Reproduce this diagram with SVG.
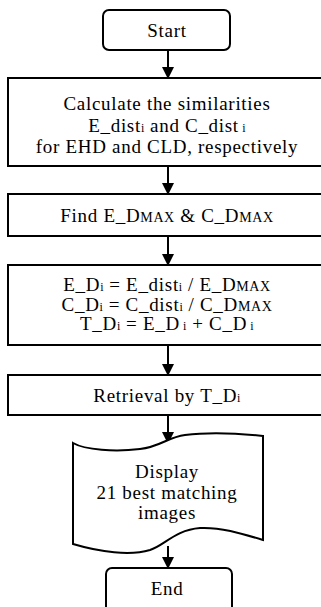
<svg xmlns="http://www.w3.org/2000/svg" width="321" height="607" viewBox="0 0 321 607">
  <defs>
    <marker id="arrow" markerWidth="12" markerHeight="12" refX="11" refY="6" orient="auto" markerUnits="userSpaceOnUse">
      <path d="M0,0 L12,6 L0,12 Z" fill="#000"/>
    </marker>
    <style>
      .box { fill: #fff; stroke: #000; stroke-width: 2; }
      .lbl { font-family: "Liberation Serif", "Times New Roman", serif; font-size: 19px; letter-spacing: 0.7px; fill: #000; text-anchor: middle; }
      .sub { font-size: 12px; letter-spacing: 0.3px; }
      .sc { font-size: 14px; letter-spacing: 0.6px; }
      .edge { stroke: #000; stroke-width: 2; fill: none; marker-end: url(#arrow); }
    </style>
  </defs>

  <g id="connectors">
    <line class="edge" x1="168" y1="50" x2="168" y2="78"/>
    <line class="edge" x1="168" y1="166" x2="168" y2="194"/>
    <line class="edge" x1="168" y1="236" x2="168" y2="265"/>
    <line class="edge" x1="168" y1="345" x2="168" y2="375"/>
    <line class="edge" x1="168" y1="415" x2="168" y2="443"/>
    <line class="edge" x1="168" y1="546" x2="168" y2="568"/>
  </g>

  <g id="start">
    <rect class="box" x="103" y="10" width="127" height="40" rx="6"/>
    <text class="lbl" x="167" y="37">Start</text>
  </g>

  <g id="similarities">
    <rect class="box" x="8" y="78" width="330" height="88"/>
    <text class="lbl" x="167" y="110">Calculate the similarities</text>
    <text class="lbl" x="167" y="132">E_dist<tspan class="sub">i</tspan> and C_dist<tspan class="sub"> i</tspan></text>
    <text class="lbl" x="167" y="153">for EHD and CLD, respectively</text>
  </g>

  <g id="find-max">
    <rect class="box" x="8" y="194" width="330" height="42"/>
    <text class="lbl" x="167" y="222">Find E_D<tspan class="sc">MAX</tspan> &amp; C_D<tspan class="sc">MAX</tspan></text>
  </g>

  <g id="normalize">
    <rect class="box" x="8" y="265" width="330" height="80"/>
    <text class="lbl" x="167" y="291">E_D<tspan class="sub">i</tspan> = E_dist<tspan class="sub">i</tspan> / E_D<tspan class="sc">MAX</tspan></text>
    <text class="lbl" x="167" y="311">C_D<tspan class="sub">i</tspan> = C_dist<tspan class="sub">i</tspan> / C_D<tspan class="sc">MAX</tspan></text>
    <text class="lbl" x="167" y="330">T_D<tspan class="sub">i</tspan> = E_D<tspan class="sub"> i</tspan> + C_D<tspan class="sub"> i</tspan></text>
  </g>

  <g id="retrieval">
    <rect class="box" x="8" y="375" width="330" height="40"/>
    <text class="lbl" x="167" y="402">Retrieval by T_D<tspan class="sub">i</tspan></text>
  </g>

  <g id="display">
    <path class="box" d="M73,443 C85,450 115,452 140,449 C160,447 168,437 185,435 C215,431 245,434 263,436 L263,540 C240,533 220,527 200,528 C175,530 165,545 150,550 C130,556 100,552 73,544 Z"/>
    <text class="lbl" x="167" y="478">Display</text>
    <text class="lbl" x="167" y="499">21 best matching</text>
    <text class="lbl" x="167" y="519">images</text>
  </g>

  <g id="end">
    <rect class="box" x="106" y="568" width="126" height="50" rx="6"/>
    <text class="lbl" x="167" y="595">End</text>
  </g>
</svg>
